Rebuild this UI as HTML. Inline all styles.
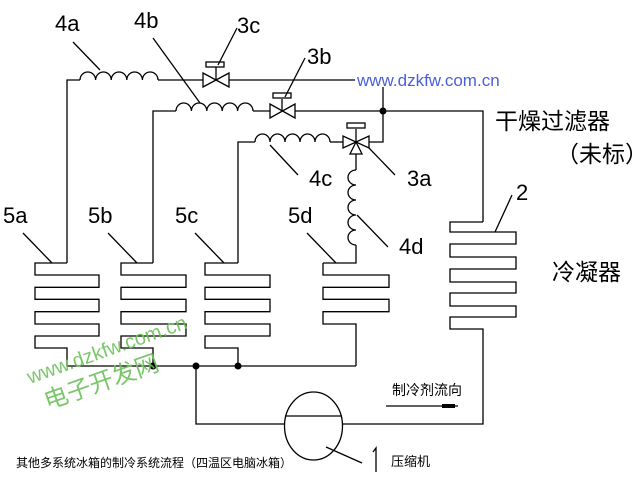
<!DOCTYPE html>
<html><head><meta charset="utf-8"><style>
html,body{margin:0;padding:0;background:#fff;}
svg{display:block}
.t{font-family:"Liberation Sans Narrow","Liberation Sans",sans-serif;font-size:22px;fill:#000;}
.c{font-family:"Liberation Sans","Noto Sans CJK SC",sans-serif;fill:#000;}
</style></head><body>
<svg width="636" height="483" viewBox="0 0 636 483" xmlns="http://www.w3.org/2000/svg">
<g fill="none" stroke="#000" stroke-width="1.3">
<path d="M67,263 V80 H80"/>
<path d="M80,80 a7.8,8 0 0 1 15.6,0 a7.8,8 0 0 1 15.6,0 a7.8,8 0 0 1 15.6,0 a7.8,8 0 0 1 15.6,0 a7.8,8 0 0 1 15.6,0"/>
<path d="M158,80 H203 M229,80 H355"/>
<path d="M203,73 V87 L229,73 V87 Z"/>
<path d="M216,80 V67"/><rect x="206" y="62" width="18" height="5"/>
<path d="M153,263 V111 H176"/>
<path d="M176,111 a7.7,8 0 0 1 15.4,0 a7.7,8 0 0 1 15.4,0 a7.7,8 0 0 1 15.4,0 a7.7,8 0 0 1 15.4,0 a7.7,8 0 0 1 15.4,0"/>
<path d="M253,111 H270 M295,111 H483 V222"/>
<path d="M270,104 V118 L295,104 V118 Z"/>
<path d="M282,111 V99"/><rect x="273" y="93" width="18" height="5"/>
<path d="M383,87 V142 H369"/>
<path d="M238,263 V142 H255"/>
<path d="M255,142 a7.5,8 0 0 1 15,0 a7.5,8 0 0 1 15,0 a7.5,8 0 0 1 15,0 a7.5,8 0 0 1 15,0 a7.5,8 0 0 1 15,0"/>
<path d="M330,142 H343"/>
<path d="M343,136 V148 L369,136 V148 Z"/>
<path d="M356,142 L350,154 H362 Z"/>
<path d="M356,142 V129"/><rect x="347" y="123" width="18" height="5"/>
<path d="M356,154 V170"/>
<path d="M356,170 a8,7.5 0 0 0 0,15 a8,7.5 0 0 0 0,15 a8,7.5 0 0 0 0,15 a8,7.5 0 0 0 0,15 a8,7.5 0 0 0 0,15"/>
<path d="M356,245 V263 H323"/>
<path d="M67,263 H35 V275 H99 V287.3 H35 V299.3 H99 V311.7 H35 V324 H99 V336 H35 V348 H67 V366"/>
<path d="M153,263 H121 V275 H186 V287.3 H121 V299.3 H186 V311.7 H121 V324 H186 V336 H121 V348 H153 V366"/>
<path d="M238,263 H205 V275 H270 V287.3 H205 V299.3 H270 V311.7 H205 V324 H270 V336 H205 V348 H238 V366"/>
<path d="M323,263 V275 H389 V287.3 H323 V299.3 H389 V311.7 H323 V324 H356 V366"/>
<path d="M67,366 H356"/>
<path d="M196,366 V424 H285"/>
<path d="M483,222 H450 V232 H516 V244 H450 V257 H516 V269 H450 V282 H516 V293 H450 V306 H516 V317 H450 V329 H483 V424 H342"/>
<ellipse cx="313.5" cy="426" rx="29" ry="34"/>
<path d="M285,416 H342"/>
<path d="M73,42 L100,70 M153,38 L200,103 M237,28 L218,65 M305,58 L285,97 M270,145 L298,175 M369,148 L395,175 M357,215 L388,247 M23,233 L52,263 M108,233 L137,263 M195,233 L224,263 M307,233 L336,263 M512,195 L495,232 M326,447 L362,463"/>
<path d="M386,406 H458"/>
<path d="M373,452 L376,448 V472"/>
</g>
<rect x="442" y="404" width="13" height="4" fill="#000"/>
<g fill="#000"><circle cx="383" cy="111" r="3.5"/><circle cx="153" cy="366" r="3.5"/><circle cx="196" cy="366" r="3.5"/><circle cx="238" cy="366" r="3.5"/></g>
<g class="t">
<text x="55" y="31">4a</text><text x="134" y="28">4b</text><text x="237" y="33">3c</text><text x="307" y="64">3b</text>
<text x="309" y="186">4c</text><text x="407" y="186">3a</text><text x="399" y="254">4d</text>
<text x="3" y="223">5a</text><text x="88" y="223">5b</text><text x="175" y="223">5c</text><text x="288" y="223">5d</text>
<text x="516" y="200">2</text>
</g>
<text x="357" y="86" font-family="Liberation Sans,sans-serif" font-size="17" fill="#4a5fdc">www.dzkfw.com.cn</text>
<text class="c" x="495" y="129" font-size="23">干燥过滤器</text>
<text class="c" x="556" y="162" font-size="23">（未标）</text>
<text class="c" x="552" y="280" font-size="23">冷凝器</text>
<text class="c" x="392" y="395" font-size="14">制冷剂流向</text>
<text class="c" x="391" y="466" font-size="13">压缩机</text>
<text class="c" x="16" y="467" font-size="12">其他多系统冰箱的制冷系统流程（四温区电脑冰箱）</text>
<g transform="rotate(-19.5 30 384)" fill="#6cc15a" opacity="0.9">
<text x="30" y="384" font-family="Liberation Sans,sans-serif" font-size="20">www.dzkfw.com.cn</text>
<text x="38" y="414" font-family="Noto Sans CJK SC,sans-serif" font-size="24">电子开发网</text>
</g>
</svg>
</body></html>
